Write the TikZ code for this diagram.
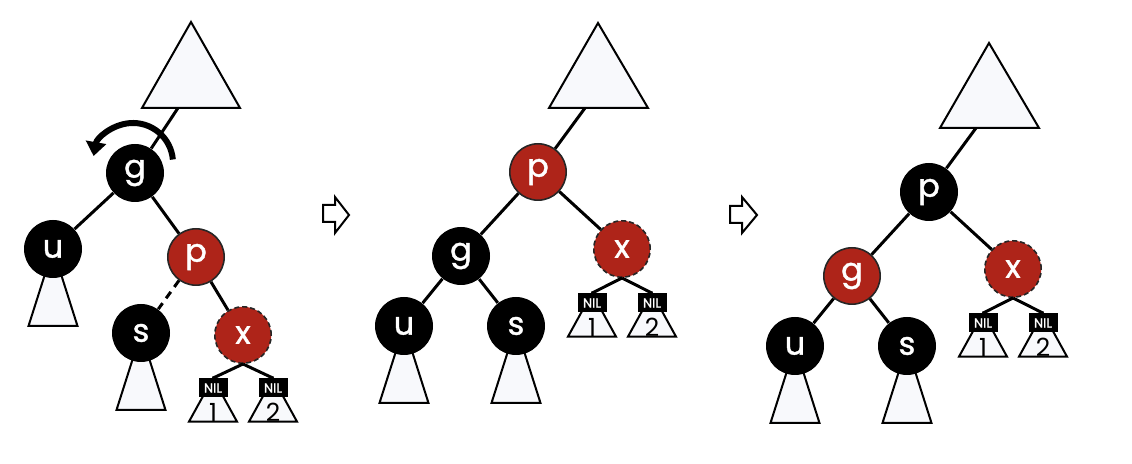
\documentclass[tikz,border=0pt]{standalone}
\usepackage{fontspec}
\setmainfont{Poppins}
\newfontfamily\keyfont{Poppins}[FakeBold=1.3]
\usetikzlibrary{positioning,backgrounds,arrows.meta}
\definecolor{rbred}{HTML}{AE2419}
\definecolor{subfill}{HTML}{F8F9FC}

\begin{document}
\begin{tikzpicture}[x=0.5pt,y=-0.5pt,on grid,>={Triangle[width=10pt,length=7pt]}]

\tikzstyle{blk}=[circle,fill=black,text=white,minimum size=29pt,inner sep=0pt,font=\keyfont\fontsize{16}{16}\selectfont]
\tikzstyle{rd}=[blk,fill=rbred,draw=black!85,line width=0.8pt,minimum size=28.2pt]
\tikzstyle{rdx}=[rd,dash pattern=on 2.5pt off 1.5pt]
\tikzstyle{nil}=[fill=black,text=white,minimum width=14.5pt,minimum height=9.5pt,inner sep=0pt,font=\keyfont\fontsize{6.5}{6.5}\selectfont]
\tikzstyle{num}=[inner sep=0pt,font=\fontsize{12.5}{12.5}\selectfont]
\tikzstyle{edge}=[line width=1.5pt]
\tikzstyle{sub}=[draw=black,fill=subfill,line width=1pt]
\tikzstyle{turn}=[line width=3pt,->]
\tikzstyle{arr}=[draw=black,fill=white,line width=1pt]

\useasboundingbox (0,0) rectangle (1132,464);

% before the rotation
    \node[blk] (g1) at (135,173) {g};
    \node[blk, below left=38pt and 41pt of g1] (u1) {u};
    \node[rd, below right=42pt and 30.5pt of g1] (p1) {p};
    \node[blk, below left=38pt and 27.5pt of p1] (s1) {s};
    \node[rdx, below right=39pt and 23.5pt of p1] (x1) {x};
    \node[nil, below left=26.5pt and 15pt of x1] (na1) {NIL};
    \node[nil, below right=26.5pt and 15pt of x1] (nb1) {NIL};
    \node[num, below=12pt of na1] (ca1) {1};
    \node[num, below=12pt of nb1] (cb1) {2};
    \coordinate (t1) at (178,108);

\begin{pgfonlayer}{background}
    \draw[sub] (191,22) -- (240,108) -- (142,108) -- cycle;
    \draw[sub] (u1.center) -- ++(-24.5,77) -- ++(49,0) -- cycle;
    \draw[sub] (s1.center) -- ++(-24.5,77) -- ++(49,0) -- cycle;
    \draw[sub] (na1.north) -- ++(-24,43.5) -- ++(48,0) -- cycle;
    \draw[sub] (nb1.north) -- ++(-24,43.5) -- ++(48,0) -- cycle;
\end{pgfonlayer}

\path[edge]
    (t1) edge (g1)
    (g1) edge (u1)
    (g1) edge (p1)
    (p1) edge[dash pattern=on 4pt off 3pt] (s1)
    (p1) edge (x1)
    (x1.south) edge (na1.north)
    (x1.south) edge (nb1.north);

\draw[turn] ([shift={(-1pt,5pt)}]g1.center) ++(5:20pt) arc[start angle=5,end angle=170,radius=20pt];

    \draw[arr] (323,205) -- (335,205) -- (335,197) -- (349,215) -- (335,233) -- (335,222) -- (323,222) -- cycle;
    \draw[arr] (730,206) -- (742,206) -- (742,197) -- (757,215) -- (742,233) -- (742,223) -- (730,223) -- cycle;

% after the rotation
    \node[rd] (p2) at (538,172) {p};
    \node[blk, below left=42pt and 38.5pt of p2] (g2) {g};
    \node[rdx, below right=38.5pt and 42pt of p2] (x2) {x};
    \node[blk, below left=35pt and 28.5pt of g2] (u2) {u};
    \node[blk, below right=35pt and 27.5pt of g2] (s2) {s};
    \node[nil, below left=27pt and 15pt of x2] (na2) {NIL};
    \node[nil, below right=27pt and 15pt of x2] (nb2) {NIL};
    \node[num, below=12pt of na2] (ca2) {1};
    \node[num, below=12pt of nb2] (cb2) {2};
    \coordinate (t2) at (585,108);

\begin{pgfonlayer}{background}
    \draw[sub] (598,23) -- (648,108) -- (549,108) -- cycle;
    \draw[sub] (u2.center) -- ++(-24.5,77) -- ++(49,0) -- cycle;
    \draw[sub] (s2.center) -- ++(-24.5,77) -- ++(49,0) -- cycle;
    \draw[sub] (na2.north) -- ++(-24,43.5) -- ++(48,0) -- cycle;
    \draw[sub] (nb2.north) -- ++(-24,43.5) -- ++(48,0) -- cycle;
\end{pgfonlayer}

\path[edge]
    (t2) edge (p2)
    (p2) edge (g2)
    (p2) edge (x2)
    (g2) edge (u2)
    (g2) edge (s2)
    (x2.south) edge (na2.north)
    (x2.south) edge (nb2.north);

% after recolouring
    \node[blk] (p3) at (929,192) {p};
    \node[rd, below left=42pt and 38.5pt of p3] (g3) {g};
    \node[rdx, below right=38.5pt and 42pt of p3] (x3) {x};
    \node[blk, below left=35pt and 28.5pt of g3] (u3) {u};
    \node[blk, below right=35pt and 27.5pt of g3] (s3) {s};
    \node[nil, below left=27pt and 15pt of x3] (na3) {NIL};
    \node[nil, below right=27pt and 15pt of x3] (nb3) {NIL};
    \node[num, below=12pt of na3] (ca3) {1};
    \node[num, below=12pt of nb3] (cb3) {2};
    \coordinate (t3) at (976,128);

\begin{pgfonlayer}{background}
    \draw[sub] (989,43) -- (1039,128) -- (940,128) -- cycle;
    \draw[sub] (u3.center) -- ++(-24.5,77) -- ++(49,0) -- cycle;
    \draw[sub] (s3.center) -- ++(-24.5,77) -- ++(49,0) -- cycle;
    \draw[sub] (na3.north) -- ++(-24,43.5) -- ++(48,0) -- cycle;
    \draw[sub] (nb3.north) -- ++(-24,43.5) -- ++(48,0) -- cycle;
\end{pgfonlayer}

\path[edge]
    (t3) edge (p3)
    (p3) edge (g3)
    (p3) edge (x3)
    (g3) edge (u3)
    (g3) edge (s3)
    (x3.south) edge (na3.north)
    (x3.south) edge (nb3.north);
\end{tikzpicture}
\end{document}
